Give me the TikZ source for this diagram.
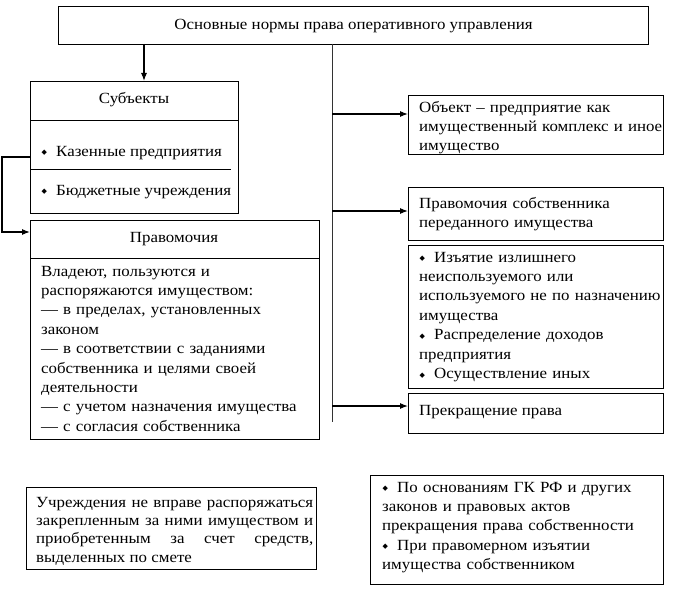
\documentclass[tikz,border=0pt]{standalone}
\usepackage{fontspec}
\setmainfont[FakeStretch=1.09]{Liberation Serif}
\newfontfamily\bulletfont{DejaVu Sans}
\usetikzlibrary{arrows.meta}

\newcommand{\itm}{\makebox[15pt][l]{\hspace{0.5pt}\raisebox{1.3pt}{\bulletfont\fontsize{7}{7}\selectfont ◆}}}

\tikzset{
  box/.style={draw, line width=1.1pt, inner sep=0pt, anchor=north west},
  txt/.style={inner sep=0pt, font=\fontsize{15.5}{19.4}\selectfont},
  para/.style={txt, anchor=base west, align=left},
  sep/.style={line width=0.7pt},
  conn/.style={line width=1.1pt, -{Latex[length=8pt,width=6pt]}},
}

\begin{document}
\begin{tikzpicture}[x=1pt,y=-1pt]
  \useasboundingbox (0,0) rectangle (684,591);

  % Boxes
  \node[box, minimum width=590pt, minimum height=38pt, font=\fontsize{15.5}{19.4}\selectfont]
    (norms) at (58,6) {Основные нормы права оперативного управления};
  \node[box, minimum width=208pt, minimum height=132pt] (subj) at (30,81) {};
  \node[box, minimum width=289pt, minimum height=219pt] (prav) at (30,220) {};
  \node[box, minimum width=255pt, minimum height=59pt] (obj) at (408,95) {};
  \node[box, minimum width=255pt, minimum height=53pt] (sobstv) at (408,187) {};
  \node[box, minimum width=255pt, minimum height=143pt] (powers) at (408,245) {};
  \node[box, minimum width=255pt, minimum height=40pt] (prekr) at (408,393) {};
  \node[box, minimum width=290pt, minimum height=82pt] (uchr) at (26,487) {};
  \node[box, minimum width=293pt, minimum height=109pt] (osn) at (370,475) {};

  % Separators
  \draw[sep] (30,120) -- (238,120);
  \draw[sep] (30,169) -- (231,169);
  \draw[sep] (30,258) -- (319,258);

  % Labels
  \node[txt, anchor=base] (subjT) at (134,103) {Субъекты};
  \node[txt, anchor=base west] (kazT) at (41,156) {\itm Казенные предприятия};
  \node[txt, anchor=base west] (budgT) at (41,195) {\itm Бюджетные учреждения};
  \node[txt, anchor=base] (pravT) at (174,242) {Правомочия};
  \node[para, text width=280pt] (pravL) at (41,276)
    {Владеют, пользуются и\\распоряжаются имуществом:\\—\hspace{5pt}в пределах, установленных\\законом\\—\hspace{5pt}в соответствии с заданиями\\собственника и целями своей\\деятельности\\—\hspace{5pt}с учетом назначения имущества\\—\hspace{5pt}с согласия собственника};
  \node[para, text width=250pt] (objT) at (419,112)
    {Объект – предприятие как\\имущественный комплекс и иное\\имущество};
  \node[para, text width=250pt] (sobT) at (419,208)
    {Правомочия собственника\\переданного имущества};
  \node[para, text width=250pt] (powT) at (419,262)
    {\itm Изъятие излишнего\\неиспользуемого или\\используемого не по назначению\\имущества\\\itm Распределение доходов\\предприятия\\\itm Осуществление иных};
  \node[txt, anchor=base west] (prekrT) at (419,415) {Прекращение права};
  \node[para, align=justify, text width=277pt, font=\fontsize{15.5}{18.4}\selectfont] (uchrT) at (36,507)
    {\makebox[277pt][s]{Учреждения не вправе распоряжаться}\\\makebox[277pt][s]{закрепленным за ними имуществом и}\\\makebox[277pt][s]{приобретенным за счет средств,}\\выделенных по смете};
  \node[para, text width=285pt] (osnT) at (382,492)
    {\itm По основаниям ГК РФ и других\\законов и правовых актов\\прекращения права собственности\\\itm При правомерном изъятии\\имущества собственником};

  % Spine
  \coordinate (spTop) at (332,44);
  \coordinate (spEnd) at (332,422);
  \draw[line width=0.8pt, black!80] (spTop) -- (spEnd);

  % Connectors
  \coordinate (t1) at (144,44);
  \draw[conn] (t1) -- (t1 |- subj.north);
  \coordinate (b1) at (332,114);
  \coordinate (b2) at (332,211);
  \coordinate (b3) at (332,406);
  \draw[conn] (b1) -- (b1 -| obj.west);
  \draw[conn] (b2) -- (b2 -| sobstv.west);
  \draw[conn] (b3) -- (b3 -| prekr.west);
  \coordinate (lA) at (30,157);
  \coordinate (lB) at (2,232);
  \draw[conn] (lA) -| (lB) -- (lB -| prav.west);

\end{tikzpicture}
\end{document}
